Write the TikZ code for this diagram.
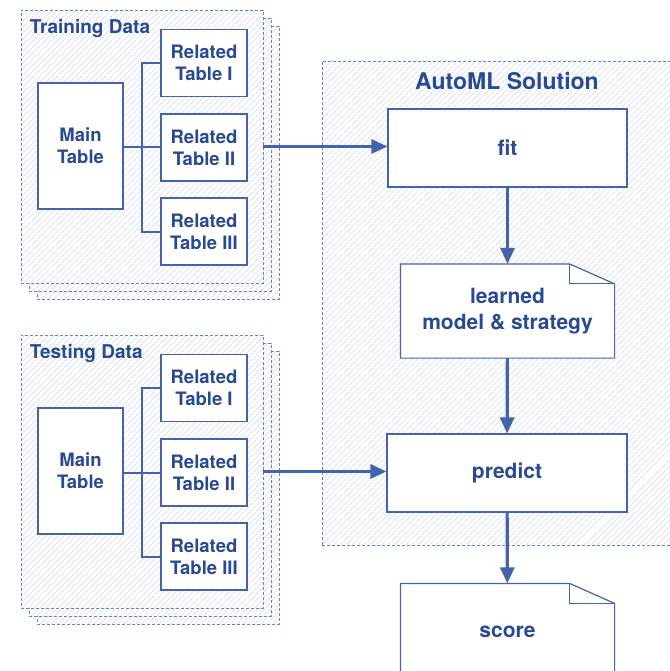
\documentclass[tikz,border=0pt]{standalone}
\usepackage{fontspec}
\setmainfont{TeX Gyre Heros}
\usetikzlibrary{arrows.meta,patterns.meta,backgrounds}
\definecolor{ink}{HTML}{2A4994}
\definecolor{edge}{HTML}{4363AD}
\definecolor{framec}{HTML}{6A84C2}
\definecolor{hatch}{HTML}{BFCBE6}
\begin{document}
\begin{tikzpicture}[
        x=1pt, y=-1pt,
        frame/.style={draw=framec, line width=0.8pt, dash pattern=on 3pt off 2pt,
            preaction={fill=white}, pattern={Lines[angle=45,distance=4pt,line width=0.6pt]},
            pattern color=hatch, inner sep=0pt},
        tbl/.style={draw=edge, line width=1.2pt, fill=white, inner sep=0pt, align=center,
            text=ink, font=\fontsize{18.5}{22}\selectfont\bfseries},
        rel/.style={tbl, minimum width=86pt, minimum height=67pt},
        stage/.style={tbl, minimum width=240pt, minimum height=78pt,
            font=\fontsize{21}{26}\selectfont\bfseries},
        doc/.style={stage, draw=none, fill=none, minimum width=213pt},
        head/.style={text=ink, inner sep=0pt},
        link/.style={draw=edge, line width=2pt},
        flow/.style={draw=edge, line width=3.2pt, -{Triangle[length=16pt,width=14pt]}}
    ]
        \useasboundingbox (0,0) rectangle (669,671);

        % hatched frames
        \begin{scope}[on background layer]
        \node[frame, minimum width=360pt, minimum height=484pt] (automl) at (502,303) {};
        \foreach \g/\y in {train/0, test/325} {
            \foreach \d in {16,8} {
                \node[frame, minimum width=242pt, minimum height=273pt] (\g-back\d) at (142+\d,146.5+\y+\d) {};
            }
            \node[frame, minimum width=242pt, minimum height=273pt] (\g) at (142,146.5+\y) {};
        }
        \end{scope}

        % data sets with main and related tables
        \foreach \g/\y/\head in {train/0/Training Data, test/325/Testing Data} {
            \node[head, anchor=west, font=\fontsize{19}{22}\selectfont\bfseries] (\g-title) at ([shift={(9pt,-18.5pt)}]\g.north west) {\head};
            \node[tbl, minimum width=85pt, minimum height=126pt] (\g-main) at (80.5,146+\y) {Main\\Table};
            \foreach \r/\ry/\n in {1/63/I, 2/147.5/II, 3/231.5/III} {
                \node[rel] (\g-rel\r) at (204,\ry+\y) {Related\\Table \n};
            }
            \coordinate (\g-bus) at (142,147.5+\y);
            \draw[link] (\g-main.east |- \g-rel2) -- (\g-rel2.west);
            \draw[link] (\g-rel1.west) -| (\g-bus) |- (\g-rel3.west);
        }

        % AutoML solution
        \node[head, font=\fontsize{23}{26}\selectfont\bfseries] (automl-title) at (507,81) {AutoML Solution};
        \node[stage, minimum width=239pt] (fit) at (507.5,148) {fit};
        \node[doc, minimum height=93pt] (learned) at (507.5,311) {learned\\model \& strategy};
        \node[stage] (predict) at (507,473) {predict};
        \node[doc, minimum height=96pt] (score) at (507.5,632) {score};

        % dog-eared documents
        \begin{scope}[on background layer]
        \foreach \d in {learned, score} {
            \filldraw[draw=edge, fill=white, line width=1.2pt, line join=round]
                (\d.south west) |- ([xshift=-45pt]\d.north east)
                -- ([yshift=-20pt]\d.north east) -- (\d.south east) -- cycle;
            \draw[edge, line width=1pt] ([xshift=-45pt]\d.north east) |- ([yshift=-20pt]\d.north east);
        }
        \end{scope}

        % data flow
        \draw[flow] (train) -- (train -| fit.west);
        \draw[flow] (test) -- (test -| predict.west);
        \draw[flow] (fit) -- (learned);
        \draw[flow] (learned) -- (predict);
        \draw[flow] (predict) -- (score);
    \end{tikzpicture}
\end{document}
